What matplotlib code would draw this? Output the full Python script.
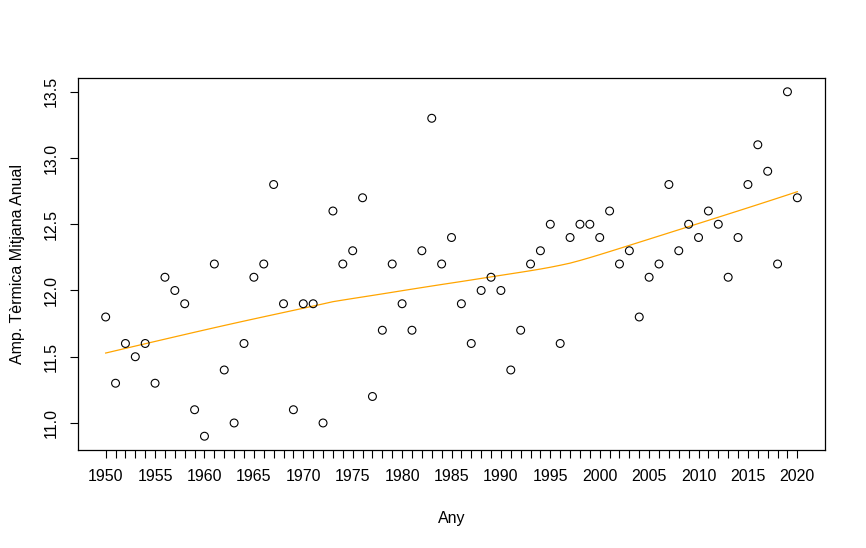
import numpy as np
import matplotlib
matplotlib.use('Agg')
import matplotlib.pyplot as plt

plt.rcParams['font.family'] = ['Liberation Sans', 'DejaVu Sans']

# annual mean thermal amplitude, 1950-2020
years = np.arange(1950, 2021)
amp = [11.8, 11.3, 11.6, 11.5, 11.6, 11.3, 12.1, 12.0, 11.9, 11.1,
       10.9, 12.2, 11.4, 11.0, 11.6, 12.1, 12.2, 12.8, 11.9, 11.1,
       11.9, 11.9, 11.0, 12.6, 12.2, 12.3, 12.7, 11.2, 11.7, 12.2,
       11.9, 11.7, 12.3, 13.3, 12.2, 12.4, 11.9, 11.6, 12.0, 12.1,
       12.0, 11.4, 11.7, 12.2, 12.3, 12.5, 11.6, 12.4, 12.5, 12.5,
       12.4, 12.6, 12.2, 12.3, 11.8, 12.1, 12.2, 12.8, 12.3, 12.5,
       12.4, 12.6, 12.5, 12.1, 12.4, 12.8, 13.1, 12.9, 12.2, 13.5,
       12.7]
ytick_vals = [11.0, 11.5, 12.0, 12.5, 13.0, 13.5]


def lowess(x, y, f=2/3, iters=3):
    # same steps as R's lowess()
    x = np.asarray(x, float)
    y = np.asarray(y, float)
    n = len(x)
    ns = max(min(int(round(f * n)), n), 2)
    rng = x[-1] - x[0]
    rw = np.ones(n)
    ys = np.zeros(n)
    for it in range(iters + 1):
        nleft, nright = 0, ns - 1
        for i in range(n):
            while nright < n - 1 and x[i] - x[nleft] > x[nright + 1] - x[i]:
                nleft += 1
                nright += 1
            h = max(x[i] - x[nleft], x[nright] - x[i])
            d = np.abs(x - x[i])
            w = np.where(d <= 0.999 * h, (1 - (d / h) ** 3) ** 3, 0.0)
            w[d <= 0.001 * h] = 1.0
            w[:nleft] = 0.0
            w = w * rw
            w = w / w.sum()
            a = np.sum(w * x)
            c = np.sum(w * (x - a) ** 2)
            if np.sqrt(c) > 0.001 * rng:
                b = (x[i] - a) / c
                w = w * (b * (x - a) + 1)
            ys[i] = np.sum(w * y)
        if it == iters:
            break
        res = np.abs(y - ys)
        cmad = 6 * np.median(res)
        if cmad < 1e-7 * res.mean():
            break
        r = res / cmad
        rw = np.where(r <= 0.999, (1 - r ** 2) ** 2, 0.0)
        rw[r <= 0.001] = 1.0
    return ys


smooth = lowess(years, amp)

fig = plt.figure(figsize=(8.66, 5.48), dpi=100)
ax = fig.add_axes([78 / 866, 98 / 548, 747 / 866, 372 / 548])

ax.scatter(years, amp, s=32, facecolors='none', edgecolors='black', linewidths=0.8, zorder=3)
ax.plot(years, smooth, color='#FFA500', lw=0.9, zorder=2)

ax.set_xlim(1947.2, 2022.8)
ax.set_ylim(10.796, 13.604)

ax.set_xticks(years)
ax.set_xticklabels([str(y) if y % 5 == 0 else '' for y in years])
ax.set_yticks(ytick_vals)
ax.set_yticklabels([f'{v:.1f}' for v in ytick_vals])

ax.tick_params(axis='both', direction='out', length=6, width=0.8, labelsize=11.5, colors='black')
ax.tick_params(axis='x', pad=8)
ax.tick_params(axis='y', pad=8, labelrotation=90)
for lab in ax.get_yticklabels():
    lab.set_va('center')

for sp in ax.spines.values():
    sp.set_linewidth(0.9)
    sp.set_color('black')

ax.set_xlabel('Any', fontsize=11.5)
ax.xaxis.set_label_coords(0.5, -0.183)
ax.xaxis.label.set_va('center')
ax.set_ylabel('Amp. Tèrmica Mitjana Anual', fontsize=11.5)
ax.yaxis.set_label_coords(-0.081, 0.5)
ax.yaxis.label.set_va('center')

fig.savefig('out.png', dpi=100)
